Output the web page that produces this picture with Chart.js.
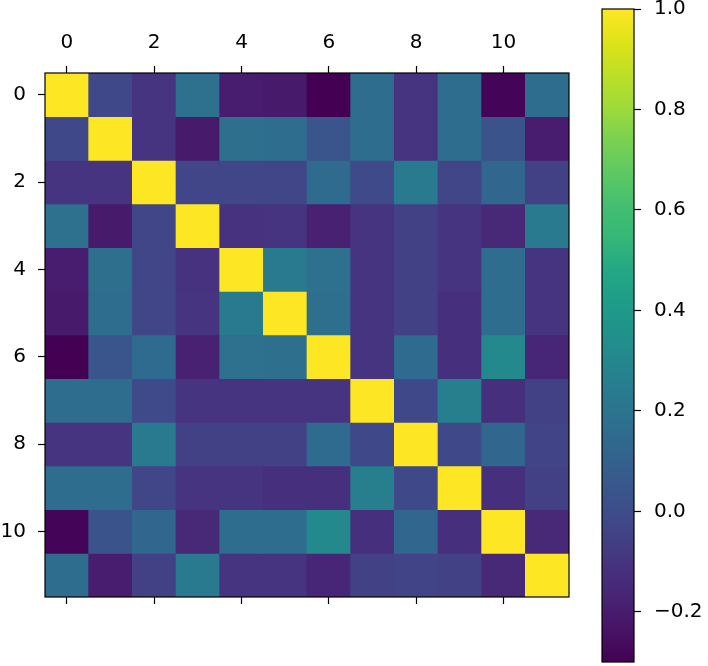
<!DOCTYPE html>
<html lang="en">
<head>
    <meta charset="UTF-8">
    <title>Correlation matrix</title>
    <script src="https://cdn.jsdelivr.net/npm/chart.js"></script>
    <style>
        body { margin: 0; background: #fff; width: 708px; height: 666px; position: relative; overflow: hidden; }
        #heat { position: absolute; left: 0; top: 0; }
        #cbar { position: absolute; left: 590px; top: 0; }
    </style>
</head>
<body>
    <canvas id="heat" width="575" height="612"></canvas>
    <canvas id="cbar" width="118" height="666"></canvas>

    <script>
        // Data (symmetric correlation matrix)
        const categories = ["0", "1", "2", "3", "4", "5", "6", "7", "8", "9", "10", "11"];
        const corrRows = [
            [1.00, -0.02, -0.10, 0.18, -0.20, -0.21, -0.30, 0.16, -0.10, 0.16, -0.29, 0.16],
            [-0.02, 1.00, -0.10, -0.21, 0.17, 0.16, 0.04, 0.16, -0.10, 0.16, 0.03, -0.20],
            [-0.10, -0.10, 1.00, -0.03, -0.03, -0.03, 0.15, -0.01, 0.23, -0.03, 0.13, -0.05],
            [0.18, -0.21, -0.03, 1.00, -0.11, -0.10, -0.18, -0.10, -0.05, -0.10, -0.15, 0.23],
            [-0.20, 0.17, -0.03, -0.11, 1.00, 0.23, 0.18, -0.10, -0.05, -0.10, 0.16, -0.10],
            [-0.21, 0.16, -0.03, -0.10, 0.23, 1.00, 0.17, -0.10, -0.05, -0.12, 0.16, -0.10],
            [-0.30, 0.04, 0.15, -0.18, 0.18, 0.17, 1.00, -0.10, 0.15, -0.12, 0.31, -0.16],
            [0.16, 0.16, -0.01, -0.10, -0.10, -0.10, -0.10, 1.00, -0.02, 0.26, -0.12, -0.05],
            [-0.10, -0.10, 0.23, -0.05, -0.05, -0.05, 0.15, -0.02, 1.00, -0.02, 0.13, -0.04],
            [0.16, 0.16, -0.03, -0.10, -0.10, -0.12, -0.12, 0.26, -0.02, 1.00, -0.12, -0.05],
            [-0.29, 0.03, 0.13, -0.15, 0.16, 0.16, 0.31, -0.12, 0.13, -0.12, 1.00, -0.15],
            [0.16, -0.20, -0.05, 0.23, -0.10, -0.10, -0.16, -0.05, -0.04, -0.05, -0.15, 1.00]
        ];
        const axisTicks = [0, 2, 4, 6, 8, 10];
        const cbarTicks = [-0.2, 0.0, 0.2, 0.4, 0.6, 0.8, 1.0];

        const vmin = Math.min(...corrRows.flat());
        const vmax = Math.max(...corrRows.flat());

        // viridis, sampled every 0.05
        const viridis = ["#440154", "#471365", "#482475", "#46337f", "#414487", "#3b528b", "#355f8d",
            "#2f6c8e", "#2a788e", "#25848e", "#21918c", "#1e9c89", "#22a884", "#35b779", "#44bf70",
            "#5ec962", "#7ad151", "#a0da39", "#bddf26", "#dfe318", "#fde725"];

        function hexToRgb(h) {
            return [parseInt(h.slice(1, 3), 16), parseInt(h.slice(3, 5), 16), parseInt(h.slice(5, 7), 16)];
        }
        function viridisColor(t) {
            t = Math.max(0, Math.min(1, t));
            const pos = t * (viridis.length - 1);
            const i = Math.min(Math.floor(pos), viridis.length - 2);
            const f = pos - i;
            const a = hexToRgb(viridis[i]), b = hexToRgb(viridis[i + 1]);
            const c = a.map((v, k) => Math.round(v + (b[k] - v) * f));
            return `rgb(${c[0]}, ${c[1]}, ${c[2]})`;
        }
        const norm = v => (v - vmin) / (vmax - vmin);

        Chart.defaults.font.family = "'DejaVu Sans', sans-serif";
        Chart.defaults.font.size = 20;
        Chart.defaults.color = "#000";

        // Black frame around the plotting area
        const frame = {
            id: "frame",
            afterDraw(chart) {
                const { ctx, chartArea: a } = chart;
                ctx.save();
                ctx.strokeStyle = "#000";
                ctx.lineWidth = 1.2;
                ctx.strokeRect(a.left, a.top, a.right - a.left, a.bottom - a.top);
                ctx.restore();
            }
        };

        const tickGrid = { offset: false, drawOnChartArea: false, drawTicks: true, tickLength: 7, tickColor: "#000", tickWidth: 1.2 };
        const noEdgePad = s => { s.paddingTop = 0; s.paddingBottom = 0; s.paddingLeft = 0; s.paddingRight = 0; };

        // Heatmap: one floating bar per cell, one dataset per row
        new Chart(document.getElementById("heat"), {
            type: "bar",
            data: {
                labels: categories,
                datasets: corrRows.map((row, r) => ({
                    data: row.map(() => [r - 0.5, r + 0.5]),
                    backgroundColor: row.map(v => viridisColor(norm(v))),
                    borderWidth: 0,
                    grouped: false,
                    barPercentage: 1,
                    categoryPercentage: 1
                }))
            },
            options: {
                responsive: false,
                animation: false,
                layout: { padding: { left: 0, top: 0, right: 6, bottom: 0 } },
                plugins: { legend: { display: false }, tooltip: { enabled: false } },
                scales: {
                    x: {
                        type: "category",
                        position: "top",
                        offset: true,
                        grid: tickGrid,
                        border: { display: false },
                        ticks: { autoSkip: false, maxRotation: 0, padding: 11 },
                        afterBuildTicks: s => { s.ticks = s.ticks.filter(t => axisTicks.includes(t.value)); },
                        afterFit: s => { s.height = 73; noEdgePad(s); }
                    },
                    x2: {
                        type: "linear",
                        position: "bottom",
                        offset: false,
                        min: -0.5,
                        max: categories.length - 0.5,
                        grid: tickGrid,
                        border: { display: false },
                        ticks: { callback: () => "" },
                        afterBuildTicks: s => { s.ticks = axisTicks.map(v => ({ value: v })); },
                        afterFit: s => { s.height = 15; noEdgePad(s); }
                    },
                    y: {
                        type: "linear",
                        reverse: true,
                        min: -0.5,
                        max: categories.length - 0.5,
                        grid: tickGrid,
                        border: { display: false },
                        ticks: { padding: 12, callback: v => String(v) },
                        afterBuildTicks: s => { s.ticks = axisTicks.map(v => ({ value: v })); },
                        afterFit: s => { s.width = 45; noEdgePad(s); }
                    }
                }
            },
            plugins: [frame]
        });

        // Colorbar: a single floating bar from vmin to vmax with a viridis gradient
        new Chart(document.getElementById("cbar"), {
            type: "bar",
            data: {
                labels: [""],
                datasets: [{
                    data: [[vmin, vmax]],
                    borderWidth: 0,
                    barPercentage: 1,
                    categoryPercentage: 1,
                    backgroundColor: ctx => {
                        const { chart } = ctx;
                        const a = chart.chartArea;
                        if (!a) return null;
                        const g = chart.ctx.createLinearGradient(0, a.bottom, 0, a.top);
                        viridis.forEach((c, i) => g.addColorStop(i / (viridis.length - 1), c));
                        return g;
                    }
                }]
            },
            options: {
                responsive: false,
                animation: false,
                layout: { padding: { left: 12, top: 9, right: 0, bottom: 4 } },
                plugins: { legend: { display: false }, tooltip: { enabled: false } },
                scales: {
                    x: { display: false },
                    y: {
                        type: "linear",
                        position: "right",
                        min: vmin,
                        max: vmax,
                        grid: tickGrid,
                        border: { display: false },
                        ticks: { padding: 13, callback: v => v.toFixed(1).replace("-", "\u2212") },
                        afterBuildTicks: s => { s.ticks = cbarTicks.map(v => ({ value: v })); },
                        afterFit: s => { s.width = 74; noEdgePad(s); }
                    }
                }
            },
            plugins: [frame]
        });
    </script>
</body>
</html>
